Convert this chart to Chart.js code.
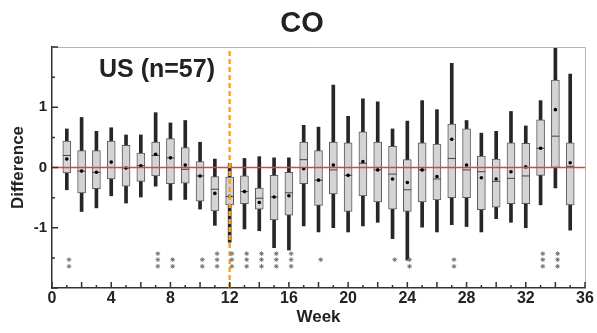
<!DOCTYPE html>
<html><head><meta charset="utf-8">
<script src="https://cdn.jsdelivr.net/npm/chart.js@4.4.1/dist/chart.umd.min.js"></script>
<style>html,body{margin:0;padding:0;background:#fff}#wrap{width:597px;height:333px;position:relative}</style>
</head><body><div id="wrap"><canvas id="c" width="597" height="333"></canvas></div>
<script>
const weeks       = [1,2,3,4,5,6,7,8,9,10,11,12,13,14,15,16,17,18,19,20,21,22,23,24,25,26,27,28,29,30,31,32,33,34,35];
const whiskerLow  = [-0.37,-0.73,-0.67,-0.47,-0.59,-0.49,-0.31,-0.54,-0.53,-0.69,-0.96,-1.24,-1.02,-1.05,-1.33,-1.37,-0.97,-1.07,-1.00,-1.07,-0.97,-0.91,-1.18,-1.54,-0.99,-1.07,-0.95,-0.98,-1.07,-0.85,-0.91,-1.00,-0.62,-0.34,-1.04];
const q1          = [-0.09,-0.42,-0.35,-0.19,-0.31,-0.23,-0.14,-0.27,-0.26,-0.56,-0.72,-0.62,-0.60,-0.69,-0.87,-0.79,-0.27,-0.63,-0.44,-0.73,-0.47,-0.57,-0.69,-0.73,-0.57,-0.54,-0.50,-0.50,-0.70,-0.66,-0.60,-0.60,-0.13,0.00,-0.62];
const median      = [0.20,-0.06,-0.08,0.00,-0.01,0.03,0.20,0.16,-0.03,-0.14,-0.36,-0.48,-0.40,-0.51,-0.49,-0.42,0.13,-0.21,-0.04,-0.13,0.07,-0.04,-0.11,-0.37,-0.04,-0.19,0.15,-0.04,-0.07,-0.23,-0.18,-0.14,0.32,0.52,0.02];
const q3          = [0.44,0.28,0.28,0.44,0.37,0.24,0.42,0.48,0.33,0.10,-0.15,-0.16,-0.14,-0.34,-0.13,-0.08,0.42,0.28,0.42,0.41,0.59,0.42,0.35,0.13,0.41,0.39,0.72,0.64,0.19,0.14,0.41,0.40,0.79,1.45,0.41];
const whiskerHigh = [0.64,0.83,0.60,0.66,0.54,0.54,0.91,0.74,0.78,0.42,0.14,0.07,0.15,0.18,0.16,0.16,0.70,0.67,1.37,0.85,1.14,1.09,0.64,0.77,1.11,0.96,1.73,0.78,0.57,0.60,0.93,0.69,1.11,2.00,1.55];
const mean        = [0.14,-0.06,-0.08,0.09,-0.01,0.03,0.22,0.16,0.04,-0.14,-0.43,-0.48,-0.40,-0.58,-0.49,-0.47,-0.02,-0.21,0.04,-0.13,0.10,-0.04,-0.19,-0.25,-0.04,-0.15,0.47,0.04,-0.17,-0.19,-0.07,0.01,0.32,0.96,0.08];
const starCount   = [2,0,0,0,0,0,3,2,0,2,3,3,3,3,3,3,0,1,0,0,0,0,1,2,0,0,2,0,0,0,0,0,3,3,0];
const starRowsByCount = {1:[-1.53], 2:[-1.53,-1.64], 3:[-1.43,-1.53,-1.64]};
const xTickLabels = [0,4,8,12,16,20,24,28,32,36];
const yTickLabels = [-1,0,1];
const eventWeek = 12;

const F = "'Liberation Sans', Arial, Helvetica, sans-serif";

const starPoints = [];
weeks.forEach((w,i)=>{ (starRowsByCount[starCount[i]]||[]).forEach(v=>starPoints.push({x:w+0.15,y:v})); });

const decor = {
  id:'decor',
  afterDraw(chart){
    const {ctx, chartArea:a, scales:{x,y}} = chart;
    ctx.save();
    ctx.strokeStyle = '#b5b5b5'; ctx.lineWidth = 1;
    ctx.beginPath();
    ctx.moveTo(a.left, Math.round(a.top)+0.5);
    ctx.lineTo(Math.round(a.right)+0.5, Math.round(a.top)+0.5);
    ctx.lineTo(Math.round(a.right)+0.5, a.bottom);
    ctx.stroke();
    ctx.strokeStyle = '#333'; ctx.lineWidth = 1.5;
    ctx.beginPath();
    for (let v = x.min; v <= x.max; v += 1) {
      const px = x.getPixelForValue(v);
      const len = v % 2 === 0 ? 6 : 3;
      ctx.moveTo(px, a.bottom); ctx.lineTo(px, a.bottom - len);
    }
    for (let v = y.min; v <= y.max; v += 0.5) {
      const py = y.getPixelForValue(v);
      const len = Number.isInteger(v) ? 6 : 3;
      ctx.moveTo(a.left, py); ctx.lineTo(a.left + len, py);
    }
    ctx.stroke();
    ctx.fillStyle = '#222';
    ctx.font = 'bold 29px ' + F; ctx.textAlign = 'center'; ctx.textBaseline = 'alphabetic';
    ctx.fillText('CO', 302, 32);
    ctx.font = 'bold 25px ' + F; ctx.textAlign = 'left';
    ctx.fillText('US (n=57)', 99, 77);
    ctx.restore();
  }
};

new Chart(document.getElementById('c'), {
  type: 'bar',
  data: { datasets: [
    { type:'bar', label:'whisker', data: weeks.map((w,i)=>({x:w, y:[whiskerLow[i], whiskerHigh[i]]})),
      backgroundColor:'#262626', borderWidth:0, barThickness:3, grouped:false, order:6 },
    { type:'bar', label:'box', data: weeks.map((w,i)=>({x:w, y:[q1[i], q3[i]]})),
      backgroundColor:'#d4d4d4', borderColor:'#5a5a5a', borderWidth:1, borderSkipped:false, barThickness:8, grouped:false, order:5 },
    { type:'scatter', label:'median', data: weeks.map((w,i)=>({x:w, y:median[i]})),
      pointStyle:'line', radius:4, borderColor:'#444', borderWidth:1, order:4 },
    { type:'scatter', label:'mean', data: weeks.map((w,i)=>({x:w, y:mean[i]})),
      pointStyle:'circle', radius:1.8, backgroundColor:'#000', borderColor:'#000', borderWidth:0, order:3 },
    { type:'line', label:'zero', data:[{x:0,y:0},{x:36,y:0}],
      borderColor:'#e34141', borderWidth:1.3, pointRadius:0, order:2 },
    { type:'line', label:'event', data:[{x:eventWeek,y:-2},{x:eventWeek,y:2}],
      borderColor:'#f9a525', borderWidth:2.5, borderDash:[5,3], pointRadius:0, order:1 },
    { type:'scatter', label:'stars', data: starPoints,
      pointStyle:'star', radius:2.3, borderColor:'#777', borderWidth:1, order:0 }
  ]},
  options: {
    responsive:false, animation:false, devicePixelRatio:1,
    layout:{ padding:{ top:47, right:12, left:0, bottom:0 } },
    plugins:{ legend:{display:false}, tooltip:{enabled:false}, title:{display:false} },
    scales:{
      x:{ type:'linear', min:0, max:36, offset:false,
          afterBuildTicks: s => { s.ticks = xTickLabels.map(v=>({value:v})); },
          ticks:{ autoSkip:false, maxRotation:0, padding:1, color:'#222', font:{family:F, size:16, weight:'bold'} },
          grid:{ display:false, drawTicks:false, offset:false },
          border:{ display:true, color:'#333', width:1.5 },
          title:{ display:true, text:'Week', color:'#222', font:{family:F, size:17, weight:'bold'}, padding:{top:0, bottom:5} },
          afterFit: s => { s.height = 45; } },
      y:{ min:-2, max:2,
          afterBuildTicks: s => { s.ticks = yTickLabels.map(v=>({value:v})); },
          ticks:{ padding:5, color:'#222', font:{family:F, size:15, weight:'bold'} },
          grid:{ display:false, drawTicks:false },
          border:{ display:true, color:'#333', width:1.5 },
          title:{ display:true, text:'Difference', color:'#222', font:{family:F, size:17, weight:'bold'}, padding:{top:8, bottom:0} },
          afterFit: s => { s.width = 52; } }
    }
  },
  plugins:[decor]
});
</script>
</body></html>
